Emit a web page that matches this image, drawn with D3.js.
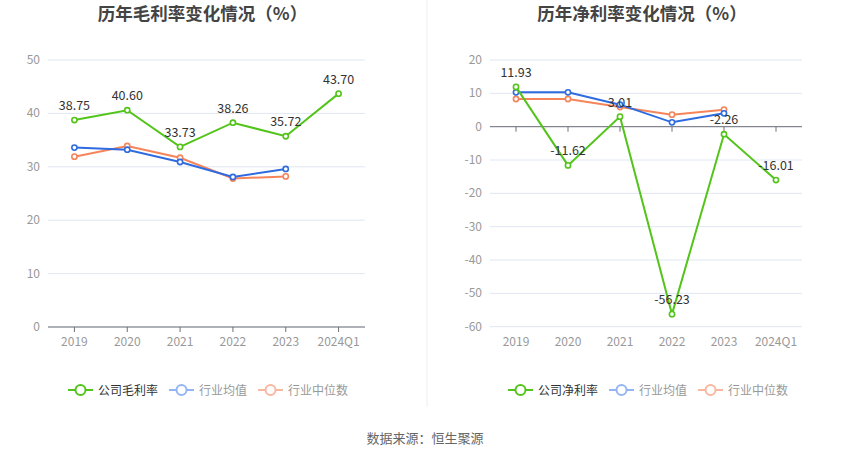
<!DOCTYPE html>
<html>
<head>
<meta charset="utf-8">
<script src="https://cdn.jsdelivr.net/npm/d3@7/dist/d3.min.js"></script>
<style>
  body { margin: 0; background: #fff; }
  svg { display: block; font-family: "Noto Sans CJK SC", "Noto Sans", sans-serif; }
</style>
</head>
<body>
<svg id="chart" width="850" height="459"></svg>
<script>
const categories = ['2019', '2020', '2021', '2022', '2023', '2024Q1']

// 毛利率
const grossCompany = [38.75, 40.60, 33.73, 38.26, 35.72, 43.70]
const grossAvg = [33.6, 33.2, 30.9, 28.1, 29.6]
const grossMedian = [31.9, 33.9, 31.7, 27.8, 28.2]
const grossTicks = [0, 10, 20, 30, 40, 50]

// 净利率
const netCompany = [11.93, -11.62, 3.01, -56.23, -2.26, -16.01]
const netAvg = [10.3, 10.3, 6.6, 1.3, 4.0]
const netMedian = [8.3, 8.3, 5.9, 3.6, 5.1]
const netTicks = [-60, -50, -40, -30, -20, -10, 0, 10, 20]

const GREEN = '#52c41a', BLUE = '#2f6be0', ORANGE = '#f5845a'

const svg = d3.select('#chart')

function drawPanel(opt) {
  const g = svg.append('g')
  const x = d3.scaleBand().domain(categories).range([opt.x0, opt.x1])
  const y = d3.scaleLinear().domain(opt.domain).range([opt.yBottom, opt.yTop])

  g.append('text').attr('x', (opt.x0 + opt.x1) / 2 - 4).attr('y', 20)
    .attr('text-anchor', 'middle').attr('font-size', 17.5).attr('font-weight', 'bold')
    .attr('fill', '#444').text(opt.title)

  // grid
  g.selectAll('line.grid').data(opt.ticks).enter().append('line')
    .attr('x1', opt.x0).attr('x2', opt.x1)
    .attr('y1', d => y(d)).attr('y2', d => y(d))
    .attr('stroke', '#e0e6f1').attr('stroke-width', 1)

  g.selectAll('text.ylab').data(opt.ticks).enter().append('text')
    .attr('x', opt.x0 - 8).attr('y', d => y(d) + 4)
    .attr('text-anchor', 'end').attr('font-size', 12).attr('fill', '#999')
    .text(d => d)

  // x axis at zero
  const y0 = y(0)
  g.append('line').attr('x1', opt.x0).attr('x2', opt.x1).attr('y1', y0).attr('y2', y0)
    .attr('stroke', '#6e7079')
  g.selectAll('line.tick').data(categories).enter().append('line')
    .attr('x1', d => x(d) + x.bandwidth() / 2).attr('x2', d => x(d) + x.bandwidth() / 2)
    .attr('y1', y0).attr('y2', y0 + 5).attr('stroke', '#6e7079')
  g.selectAll('text.xlab').data(categories).enter().append('text')
    .attr('x', d => x(d) + x.bandwidth() / 2).attr('y', opt.yBottom + 19)
    .attr('text-anchor', 'middle').attr('font-size', 12).attr('fill', '#999')
    .text(d => d)

  const cx = i => x(categories[i]) + x.bandwidth() / 2
  const line = d3.line().x((d, i) => cx(i)).y(d => y(d))

  const series = [
    { data: opt.median, color: ORANGE },
    { data: opt.avg, color: BLUE },
    { data: opt.company, color: GREEN, label: true },
  ]
  series.forEach(s => {
    g.append('path').attr('d', line(s.data)).attr('fill', 'none')
      .attr('stroke', s.color).attr('stroke-width', 2)
    g.selectAll(null).data(s.data).enter().append('circle')
      .attr('cx', (d, i) => cx(i)).attr('cy', d => y(d)).attr('r', 2.6)
      .attr('fill', '#fff').attr('stroke', s.color).attr('stroke-width', 1.6)
    if (s.label) {
      g.selectAll(null).data(s.data).enter().append('text')
        .attr('x', (d, i) => cx(i)).attr('y', d => y(d) - 10)
        .attr('text-anchor', 'middle').attr('font-size', 12.5).attr('fill', '#333')
        .text(d => d.toFixed(2))
    }
  })

  // legend
  const legend = [
    { name: opt.legendName, color: GREEN, text: '#333' },
    { name: '行业均值', color: '#94b4f3', text: '#999' },
    { name: '行业中位数', color: '#f8b7a0', text: '#999' },
  ]
  let lx = opt.legendX
  legend.forEach(l => {
    const lg = g.append('g').attr('transform', `translate(${lx},390)`)
    lg.append('line').attr('x1', 0).attr('x2', 25).attr('stroke', l.color).attr('stroke-width', 2)
    lg.append('circle').attr('cx', 12.5).attr('r', 5).attr('fill', '#fff')
      .attr('stroke', l.color).attr('stroke-width', 2)
    const t = lg.append('text').attr('x', 30).attr('y', 4.5).attr('font-size', 12)
      .attr('fill', l.text).text(l.name)
    lx += 30 + t.node().getComputedTextLength() + 11
  })
}

drawPanel({
  title: '历年毛利率变化情况（%）', x0: 48, x1: 365, yTop: 60, yBottom: 327,
  domain: [0, 50], ticks: grossTicks,
  company: grossCompany, avg: grossAvg, median: grossMedian,
  legendName: '公司毛利率', legendX: 68
})

drawPanel({
  title: '历年净利率变化情况（%）', x0: 490, x1: 802, yTop: 60, yBottom: 326.7,
  domain: [-60, 20], ticks: netTicks,
  company: netCompany, avg: netAvg, median: netMedian,
  legendName: '公司净利率', legendX: 508
})

svg.append('line').attr('x1', 427).attr('x2', 427).attr('y1', 0).attr('y2', 407)
  .attr('stroke', '#eeeeee')

svg.append('text').attr('x', 425).attr('y', 443).attr('text-anchor', 'middle')
  .attr('font-size', 13).attr('fill', '#666').text('数据来源：恒生聚源')
</script>
</body>
</html>
